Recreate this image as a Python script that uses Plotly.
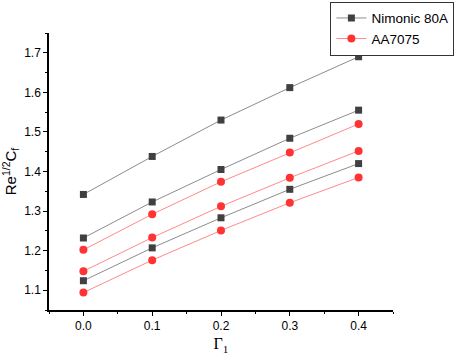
import plotly.graph_objects as go

gamma1 = [0.0, 0.1, 0.2, 0.3, 0.4]

nimonic_a = [1.342, 1.438, 1.530, 1.612, 1.690]
nimonic_b = [1.232, 1.323, 1.405, 1.484, 1.555]
nimonic_c = [1.124, 1.207, 1.283, 1.355, 1.420]

aa_a = [1.202, 1.292, 1.374, 1.448, 1.520]
aa_b = [1.148, 1.233, 1.312, 1.384, 1.452]
aa_c = [1.094, 1.176, 1.251, 1.321, 1.385]

nim_series = [nimonic_a, nimonic_b, nimonic_c]
aa_series = [aa_a, aa_b, aa_c]

fig = go.Figure()
for i, s in enumerate(nim_series):
    fig.add_trace(go.Scatter(
        x=gamma1, y=s, mode="lines+markers", name="Nimonic 80A",
        showlegend=(i == 0), legendgroup="nim",
        line=dict(color="#8c8c8c", width=1),
        marker=dict(symbol="square", size=7, color="#404040")))
for i, s in enumerate(aa_series):
    fig.add_trace(go.Scatter(
        x=gamma1, y=s, mode="lines+markers", name="AA7075",
        showlegend=(i == 0), legendgroup="aa",
        line=dict(color="#ff8a8a", width=1),
        marker=dict(symbol="circle", size=8, color="#ff3333")))

axis_common = dict(
    showline=True, linecolor="black", linewidth=1.5, mirror=False,
    showgrid=False, zeroline=False, ticks="outside", ticklen=4,
    tickwidth=1, tickcolor="black",
    tickfont=dict(family="Liberation Sans, Arial", size=12, color="black"),
)

fig.update_layout(
    width=457, height=358,
    margin=dict(l=49, r=64, t=33, b=48, autoexpand=False),
    plot_bgcolor="white", paper_bgcolor="white",
    xaxis=dict(range=[-0.05, 0.45], dtick=0.1, tick0=0, tickformat=".1f",
               minor=dict(ticks="outside", ticklen=2, dtick=0.05, tick0=0, tickcolor="black"),
               title=dict(text="Γ<sub>1</sub>", font=dict(family="Liberation Serif, Times New Roman", size=16, color="black"), standoff=6),
               **axis_common),
    yaxis=dict(range=[1.05, 1.75], dtick=0.1, tick0=1.1, tickformat=".1f",
               minor=dict(ticks="outside", ticklen=2, dtick=0.05, tick0=1.05, tickcolor="black"),
               title=dict(text="Re<sup>1/2</sup>C<sub>f</sub>", font=dict(family="Liberation Sans, Arial", size=15, color="black"), standoff=12),
               **axis_common),
    legend=dict(x=0.818, y=1.113, xanchor="left", yanchor="top",
                bordercolor="#333333", borderwidth=1, bgcolor="white",
                font=dict(family="Liberation Sans, Arial", size=13.5, color="black"),
                tracegroupgap=0, itemwidth=30),
    showlegend=True,
)

fig.write_html("out.html", config={"displayModeBar": False},
               post_script="document.body.style.margin='0';document.body.style.overflow='hidden';")
